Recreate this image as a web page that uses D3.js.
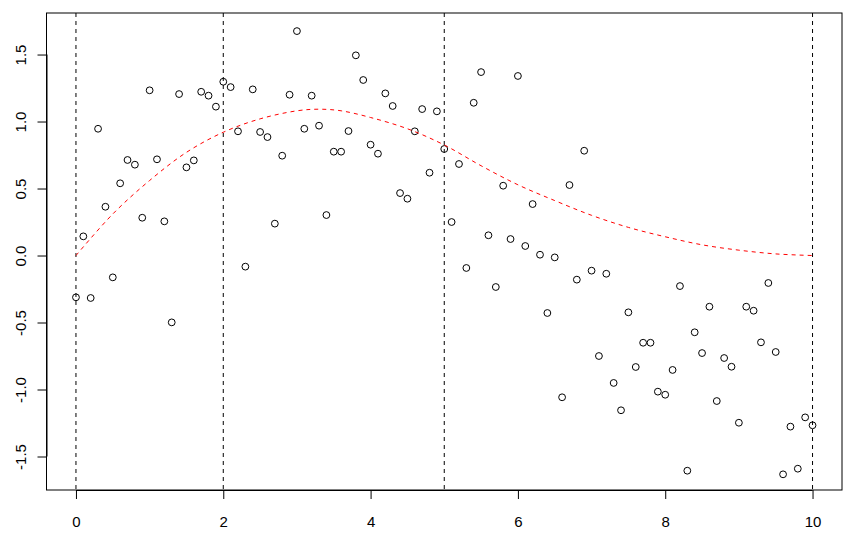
<!DOCTYPE html>
<html>
<head>
<meta charset="utf-8">
<script src="https://cdn.jsdelivr.net/npm/d3@7"></script>
<style>
  html, body { margin: 0; padding: 0; background: #fff; }
  svg { display: block; }
  text { font-family: "Liberation Sans", Arial, Helvetica, sans-serif; font-size: 15px; fill: #000; }
</style>
</head>
<body>
<svg id="chart" width="855" height="540"></svg>
<script>
// ---- data ----
const xValues = [
  0.0,0.1,0.2,0.3,0.4,0.5,0.6,0.7,0.8,0.9,
  1.0,1.1,1.2,1.3,1.4,1.5,1.6,1.7,1.8,1.9,
  2.0,2.1,2.2,2.3,2.4,2.5,2.6,2.7,2.8,2.9,
  3.0,3.1,3.2,3.3,3.4,3.5,3.6,3.7,3.8,3.9,
  4.0,4.1,4.2,4.3,4.4,4.5,4.6,4.7,4.8,4.9,
  5.0,5.1,5.2,5.3,5.4,5.5,5.6,5.7,5.8,5.9,
  6.0,6.1,6.2,6.3,6.4,6.5,6.6,6.7,6.8,6.9,
  7.0,7.1,7.2,7.3,7.4,7.5,7.6,7.7,7.8,7.9,
  8.0,8.1,8.2,8.3,8.4,8.5,8.6,8.7,8.8,8.9,
  9.0,9.1,9.2,9.3,9.4,9.5,9.6,9.7,9.8,9.9,
  10.0
];
const yValues = [
  -0.312, 0.143,-0.317, 0.946, 0.364,-0.163, 0.539, 0.713, 0.678, 0.282,
   1.233, 0.718, 0.255,-0.499, 1.205, 0.658, 0.710, 1.222, 1.193, 1.111,
   1.297, 1.257, 0.927,-0.083, 1.240, 0.922, 0.884, 0.238, 0.745, 1.200,
   1.675, 0.946, 1.193, 0.969, 0.302, 0.775, 0.775, 0.929, 1.494, 1.310,
   0.827, 0.760, 1.210, 1.116, 0.466, 0.424, 0.927, 1.093, 0.618, 1.076,
   0.795, 0.250, 0.683,-0.093, 1.140, 1.369, 0.151,-0.235, 0.521, 0.123,
   1.340, 0.071, 0.384, 0.006,-0.429,-0.014,-1.058, 0.526,-0.180, 0.782,
  -0.113,-0.750,-0.136,-0.951,-1.155,-0.424,-0.832,-0.651,-0.651,-1.016,
  -1.039,-0.854,-0.228,-1.606,-0.573,-0.728,-0.382,-1.086,-0.765,-0.830,
  -1.248,-0.382,-0.412,-0.648,-0.205,-0.720,-1.633,-1.277,-1.591,-1.208,
  -1.267
];
const curveX = [0,0.5,1,1.5,2,2.5,3,3.3,3.6,4,4.5,5,5.5,6,6.5,7,7.5,8,8.5,9,9.5,10];
const curveY = [0.00,0.31,0.56,0.77,0.92,1.02,1.08,1.092,1.08,1.03,0.946,0.825,0.67,0.528,0.41,0.30,0.21,0.14,0.08,0.04,0.012,0.0];
const knotLines = [0, 2, 5, 10];
const xTicks = [0, 2, 4, 6, 8, 10];
const yTicks = [-1.5, -1.0, -0.5, 0.0, 0.5, 1.0, 1.5];

// ---- layout ----
const plot = { left: 46.5, right: 842, top: 13, bottom: 490 };
const svg = d3.select("#chart");

const x = d3.scaleLinear().domain([-0.4, 10.4]).range([plot.left, plot.right]);
const y = d3.scaleLinear().domain([-1.75, 1.81]).range([plot.bottom, plot.top]);

svg.append("defs").append("clipPath").attr("id", "clip")
  .append("rect").attr("x", plot.left).attr("y", plot.top)
  .attr("width", plot.right - plot.left).attr("height", plot.bottom - plot.top);

const g = svg.append("g").attr("clip-path", "url(#clip)");

// points
g.selectAll("circle.pt").data(xValues.map((v, i) => [v, yValues[i]]))
  .enter().append("circle")
  .attr("class", "pt")
  .attr("cx", d => x(d[0])).attr("cy", d => y(d[1]))
  .attr("r", 3.4)
  .attr("fill", "none").attr("stroke", "#000").attr("stroke-width", 1);

// vertical knot lines
g.selectAll("line.knot").data(knotLines).enter().append("line")
  .attr("class", "knot")
  .attr("x1", d => x(d)).attr("x2", d => x(d))
  .attr("y1", plot.top).attr("y2", plot.bottom)
  .attr("stroke", "#000").attr("stroke-width", 1).attr("stroke-dasharray", "4,4");

// red curve
const line = d3.line().x(d => x(d[0])).y(d => y(d[1])).curve(d3.curveCatmullRom.alpha(0.5));
g.append("path").datum(curveX.map((v, i) => [v, curveY[i]]))
  .attr("d", line).attr("fill", "none")
  .attr("stroke", "#ff0000").attr("stroke-width", 1).attr("stroke-dasharray", "4,4");

// box
svg.append("rect").attr("x", plot.left).attr("y", plot.top)
  .attr("width", plot.right - plot.left).attr("height", plot.bottom - plot.top)
  .attr("fill", "none").attr("stroke", "#000").attr("stroke-width", 1);

// x axis
const xAxis = d3.axisBottom(x).tickValues(xTicks).tickSize(9).tickPadding(13)
  .tickFormat(d3.format("d"));
const xa = svg.append("g").attr("transform", `translate(0,${plot.bottom})`).call(xAxis);
xa.attr("font-size", null).attr("font-family", null);
xa.select(".domain").attr("d", `M${x(0)},0.5H${x(10)}`);
xa.selectAll(".tick text").attr("dy", null).attr("y", 31).attr("dominant-baseline", "central");

// y axis
const fmtY = d => d3.format(".1f")(d).replace("\u2212", "-");
const yAxis = d3.axisLeft(y).tickValues(yTicks).tickSize(9).tickPadding(0)
  .tickFormat(fmtY);
const ya = svg.append("g").attr("transform", `translate(${plot.left},0)`).call(yAxis);
ya.attr("font-size", null).attr("font-family", null);
ya.select(".domain").attr("d", `M0.5,${y(-1.5)}V${y(1.5)}`);
ya.selectAll(".tick text")
  .attr("x", 0).attr("dy", null)
  .attr("text-anchor", "middle")
  .attr("dominant-baseline", "central")
  .attr("transform", "translate(-26.5,0) rotate(-90)");
</script>
</body>
</html>
